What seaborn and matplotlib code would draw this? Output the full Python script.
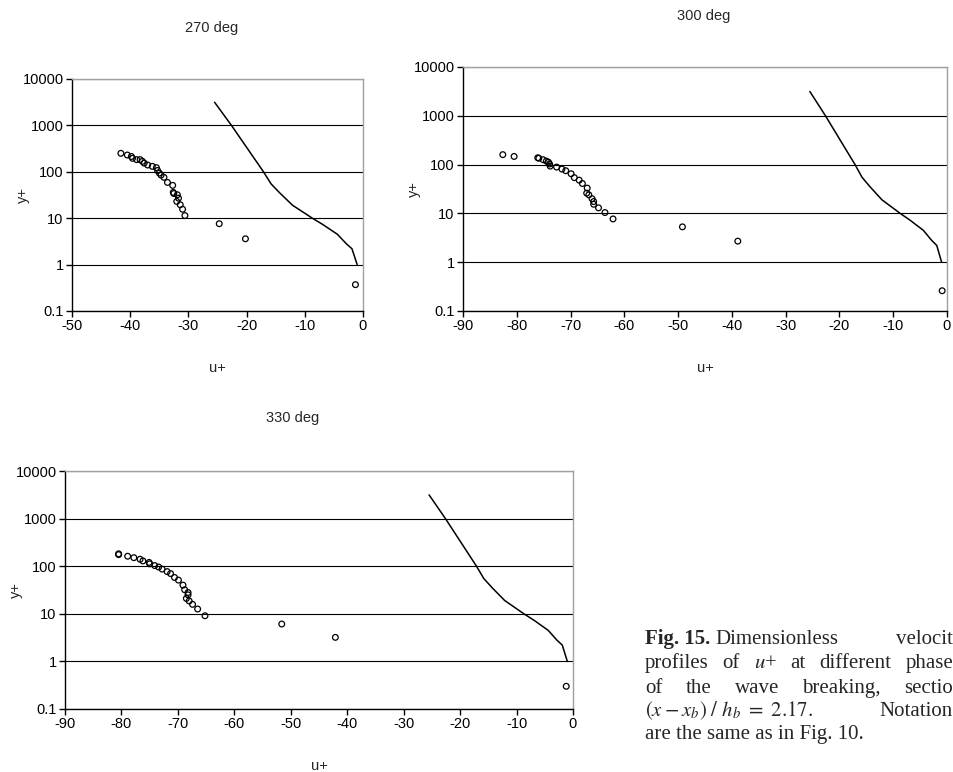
import matplotlib
matplotlib.use("Agg")
import numpy as np
import pandas as pd
import matplotlib.pyplot as plt
import seaborn as sns
from matplotlib.ticker import FixedLocator, FuncFormatter, NullLocator

# ---------------- data ----------------
u_270 = [-41.6, -40.5, -39.8, -39.6, -38.9, -38.3, -37.9, -37.6, -37.0, -36.2,
         -35.5, -35.3, -35.0, -34.7, -34.2, -33.6, -32.7, -32.6, -32.5, -31.9,
         -31.7, -32.0, -31.4, -31.0, -30.6, -24.7, -20.2, -1.3]
y_270 = [250, 230, 214, 195, 183, 183, 168, 154, 140, 131,
         123, 107, 94, 85, 76, 59, 51, 36, 34, 32,
         27, 23, 19.5, 15.6, 11.4, 7.6, 3.6, 0.37]

u_300 = [-82.6, -80.5, -76.1, -75.9, -75.1, -74.5, -74.1, -73.9, -73.8, -72.6,
         -71.6, -70.9, -69.9, -69.3, -68.4, -67.8, -66.9, -67.0, -66.6, -66.0,
         -65.7, -65.7, -64.8, -63.6, -62.1, -49.2, -38.9, -0.9]
y_300 = [160, 147, 138, 135, 126, 118, 112, 103, 93, 89,
         81, 75, 65, 54, 48, 41, 33, 26, 24, 20,
         17.5, 15.4, 13, 10.4, 7.7, 5.3, 2.7, 0.26]

u_330 = [-80.5, -80.5, -78.9, -77.8, -76.7, -76.2, -75.1, -75.0, -74.1, -73.4,
         -72.8, -71.9, -71.3, -70.6, -69.9, -69.1, -68.8, -68.2, -68.2, -68.5,
         -68.0, -67.4, -66.5, -65.2, -51.6, -42.1, -1.2]
y_330 = [175, 182, 162, 151, 140, 129, 120, 112, 103, 96,
         87, 77, 70, 58, 51, 40, 32, 28, 25, 21,
         18.6, 15.8, 12.6, 9.1, 6.1, 3.2, 0.30]

# theoretical profile (same curve in every panel)
u_line = [-25.5, -22.6, -17.1, -15.8, -14.3, -12.1, -8.7, -6.9, -4.4, -2.85, -1.9, -1.0]
y_line = [3150, 1000, 100, 55, 35, 19, 10, 7.3, 4.5, 2.8, 2.2, 1.0]

titles = ["270 deg", "300 deg", "330 deg"]
y_ticks = [0.1, 1, 10, 100, 1000, 10000]

# ---------------- figure ----------------
sns.set_style("white")
plt.rcParams["font.family"] = ["Liberation Sans", "DejaVu Sans"]
plt.rcParams["mathtext.fontset"] = "stix"
plt.rcParams["axes.unicode_minus"] = False

W, H = 954, 772
fig = plt.figure(figsize=(W / 100, H / 100), dpi=100)
fig.patch.set_facecolor("white")


def add_ax(l, t, r, b):
    return fig.add_axes([l / W, 1 - b / H, (r - l) / W, (b - t) / H])


panels = [
    dict(box=(72, 79, 363, 311), xmin=-50, u=u_270, y=y_270, title=titles[0], tpos=(212, 28)),
    dict(box=(463, 67, 947, 311), xmin=-90, u=u_300, y=y_300, title=titles[1], tpos=(704, 16)),
    dict(box=(65, 471, 573, 709), xmin=-90, u=u_330, y=y_330, title=titles[2], tpos=(293, 418)),
]

line_df = pd.DataFrame({"u": u_line, "y": y_line})

for p in panels:
    l, t, r, b = p["box"]
    ax = add_ax(l, t, r, b)
    ax.set_facecolor("white")
    ax.set_yscale("log")
    sns.lineplot(data=line_df, x="u", y="y", sort=False, estimator=None,
                 color="black", lw=1.1, ax=ax, zorder=3)
    pts = pd.DataFrame({"u": p["u"], "y": p["y"]})
    sns.scatterplot(data=pts, x="u", y="y", marker="o", s=17,
                    facecolors="none", edgecolors="black", linewidth=0.9,
                    ax=ax, zorder=4)
    ax.set_ylim(0.1, 10000)
    ax.set_xlim(p["xmin"], 0)
    ax.yaxis.set_major_locator(FixedLocator(y_ticks))
    ax.yaxis.set_minor_locator(NullLocator())
    ax.yaxis.set_major_formatter(FuncFormatter(lambda v, pos: f"{v:g}"))
    ax.set_xticks(list(range(p["xmin"], 1, 10)))
    ax.grid(axis="y", color="black", lw=0.8)
    ax.grid(axis="x", visible=False)
    for s in ["left", "bottom"]:
        ax.spines[s].set_color("black")
        ax.spines[s].set_linewidth(1.0)
    for s in ["top", "right"]:
        ax.spines[s].set_color("#a0a0a0")
        ax.spines[s].set_linewidth(1.0)
    ax.tick_params(axis="both", direction="out", length=4, width=1,
                   labelsize=10.5, pad=2, colors="black",
                   left=True, bottom=True)
    ax.set_xlabel("u+", fontsize=10.5)
    ax.set_ylabel("y+", fontsize=10.5)
    wpx, hpx = r - l, b - t
    ax.xaxis.set_label_coords(0.5, -57 / hpx)
    ax.yaxis.set_label_coords(-49 / wpx, 0.5)
    ax.xaxis.label.set_va("center")
    ax.yaxis.label.set_va("center")
    tx, ty = p["tpos"]
    fig.text(tx / W, 1 - ty / H, p["title"], ha="center", va="center", fontsize=10.5)

# ---------------- caption (justified; the reference is cut at the right edge) ----------------
serif = "Liberation Serif"
cap_size = 15
x0, x1 = 645, 953
rows_y = [638, 662, 687, 710, 733]
cap_lines = [
    [("Fig. 15.", "bold", "n"), ("Dimensionless", "normal", "j"), ("velocit", "normal", None)],
    [("profiles", "normal", "j"), ("of", "normal", "j"), (r"$u$+", "normal", "j"),
     ("at", "normal", "j"), ("different", "normal", "j"), ("phase", "normal", None)],
    [("of", "normal", "j"), ("the", "normal", "j"), ("wave", "normal", "j"),
     ("breaking,", "normal", "j"), ("sectio", "normal", None)],
    [(r"$(x - x_b)\ /\ h_b\ =\ 2.17.$", "normal", "j"), ("Notation", "normal", None)],
]
renderer = fig.canvas.get_renderer()
space_px = 0.25 * cap_size * 100 / 72
for yrow, toks in zip(rows_y, cap_lines):
    objs = []
    for txt, wt, g in toks:
        o = fig.text(0, 1 - (yrow + 6) / H, txt, family=serif, fontsize=cap_size,
                     fontweight=wt, ha="left", va="baseline")
        objs.append((o, g))
    widths = [o.get_window_extent(renderer).width for o, _ in objs]
    n_nat = sum(1 for _, g in objs if g == "n")
    n_j = sum(1 for _, g in objs if g == "j")
    free = (x1 - x0) - sum(widths) - n_nat * space_px
    jgap = free / n_j if n_j else space_px
    x = x0
    for (o, g), w in zip(objs, widths):
        o.set_x(x / W)
        x += w + (space_px if g == "n" else jgap)

fig.text(x0 / W, 1 - (rows_y[4] + 6) / H, "are the same as in Fig. 10.",
         family=serif, fontsize=cap_size, ha="left", va="baseline")

fig.savefig("out.png", dpi=100, facecolor="white")
